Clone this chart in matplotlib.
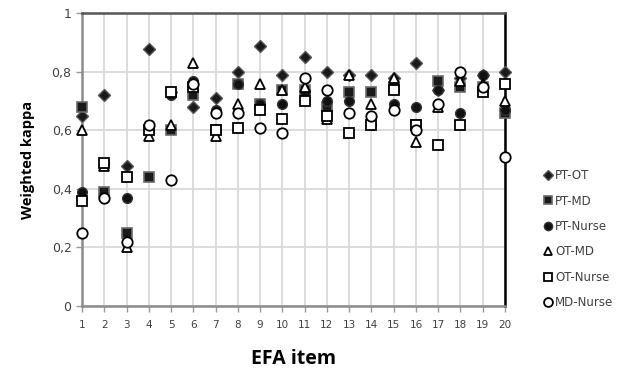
import matplotlib

matplotlib.use("Agg")
import matplotlib.pyplot as plt

items = list(range(1, 21))

pt_ot = [0.65, 0.72, 0.48, 0.88, 0.73, 0.68, 0.71, 0.80, 0.89, 0.79,
         0.85, 0.80, 0.79, 0.79, 0.78, 0.83, 0.74, 0.78, 0.79, 0.80]
pt_md = [0.68, 0.39, 0.25, 0.44, 0.60, 0.72, 0.60, 0.76, 0.69, 0.74,
         0.74, 0.68, 0.73, 0.73, 0.75, 0.62, 0.77, 0.75, 0.75, 0.66]
pt_nurse = [0.39, 0.49, 0.37, 0.60, 0.72, 0.77, 0.67, 0.76, 0.69, 0.69,
            0.73, 0.70, 0.70, 0.62, 0.69, 0.68, 0.74, 0.66, 0.79, 0.67]
ot_md = [0.60, 0.48, 0.20, 0.58, 0.62, 0.83, 0.58, 0.69, 0.76, 0.74,
         0.75, 0.64, 0.79, 0.69, 0.78, 0.56, 0.68, 0.77, 0.76, 0.70]
ot_nurse = [0.36, 0.49, 0.44, 0.60, 0.73, 0.75, 0.60, 0.61, 0.67, 0.64,
            0.70, 0.65, 0.59, 0.62, 0.74, 0.62, 0.55, 0.62, 0.73, 0.76]
md_nurse = [0.25, 0.37, 0.22, 0.62, 0.43, 0.76, 0.66, 0.66, 0.61, 0.59,
            0.78, 0.74, 0.66, 0.65, 0.67, 0.60, 0.69, 0.80, 0.75, 0.51]

y_ticks = [0, 0.2, 0.4, 0.6, 0.8, 1]
y_tick_labels = ["0", "0,2", "0,4", "0,6", "0,8", "1"]

series = [
    ("PT-OT", pt_ot, dict(marker="D", ms=6.5, mfc="#1a1a1a", mec="#555555", mew=1.0)),
    ("PT-MD", pt_md, dict(marker="s", ms=6.5, mfc="#1a1a1a", mec="#6a6a6a", mew=1.2)),
    ("PT-Nurse", pt_nurse, dict(marker="o", ms=7, mfc="#111111", mec="#333333", mew=1.0)),
    ("OT-MD", ot_md, dict(marker="^", ms=7.5, mfc="white", mec="black", mew=1.3)),
    ("OT-Nurse", ot_nurse, dict(marker="s", ms=7.5, mfc="white", mec="black", mew=1.3)),
    ("MD-Nurse", md_nurse, dict(marker="o", ms=7.5, mfc="white", mec="black", mew=1.3)),
]

fig = plt.figure(figsize=(6.29, 3.78), dpi=100)
ax = fig.add_axes([0.1304, 0.1905, 0.6725, 0.7738])

handles = []
for label, values, style in series:
    (line,) = ax.plot(items, values, linestyle="none", label=label, clip_on=False,
                      zorder=3, **style)
    handles.append(line)

ax.set_xlim(1, 20)
ax.set_ylim(0, 1)
ax.set_xticks(items)
ax.set_xticklabels([str(i) for i in items], fontsize=7.5, color="#404040")
ax.set_yticks(y_ticks)
ax.set_yticklabels(y_tick_labels, fontsize=9, color="#404040")
ax.tick_params(axis="both", direction="out", length=4, width=1, color="#999999")
ax.tick_params(axis="x", pad=6)
ax.grid(True, color="#d9d9d9", linewidth=1.3, zorder=0)
ax.set_axisbelow(True)

ax.spines["left"].set_color("#8c8c8c")
ax.spines["left"].set_linewidth(1.8)
ax.spines["bottom"].set_color("#8c8c8c")
ax.spines["bottom"].set_linewidth(1.8)
ax.spines["top"].set_color("#555555")
ax.spines["top"].set_linewidth(1.8)
ax.spines["right"].set_color("black")
ax.spines["right"].set_linewidth(1.8)

ax.set_xlabel("EFA item", fontsize=14, fontweight="bold", family="Open Sans", labelpad=14)
ax.set_ylabel("Weighted kappa", fontsize=10.5, fontweight="bold", family="Open Sans", labelpad=12)

legend_handles = []
for line in handles:
    h = plt.Line2D([], [], linestyle="none", marker=line.get_marker(),
                   ms=line.get_markersize() * 0.85, mfc=line.get_markerfacecolor(),
                   mec=line.get_markeredgecolor(), mew=line.get_markeredgewidth())
    legend_handles.append(h)

fig.legend(legend_handles, [s[0] for s in series], loc="upper left",
           bbox_to_anchor=(0.858, 0.565), frameon=False, fontsize=8.5,
           labelcolor="#404040", handlelength=0.6, handletextpad=0.3,
           labelspacing=1.05, borderaxespad=0)

fig.savefig("out.png", dpi=100)
